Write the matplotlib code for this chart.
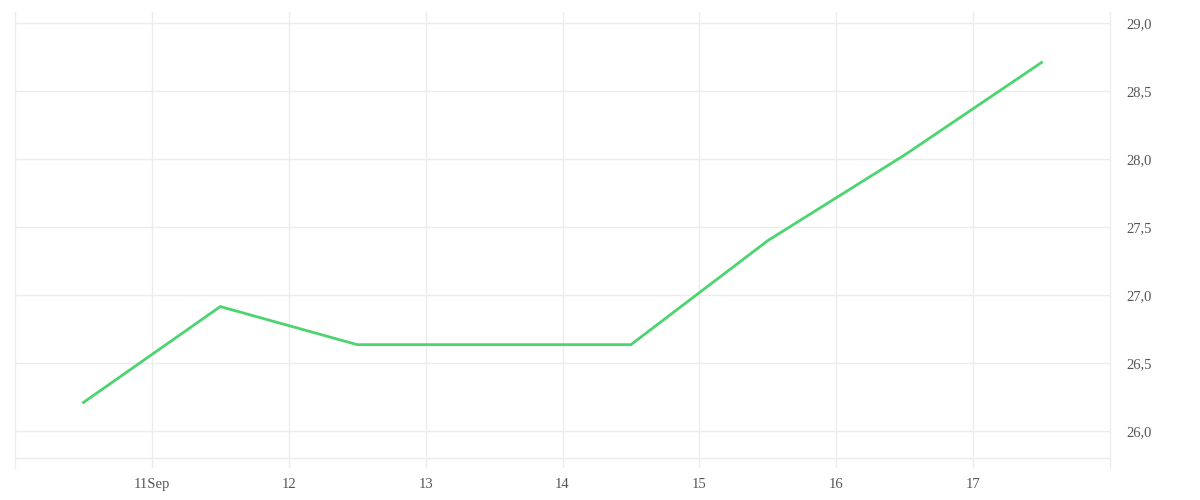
import numpy as np
import pandas as pd
import matplotlib
matplotlib.use('Agg')
import matplotlib.pyplot as plt
import matplotlib.dates as mdates

# data: one value per day, sampled at noon
dates = pd.to_datetime(['2023-09-10 12:00', '2023-09-11 12:00', '2023-09-12 12:00', '2023-09-13 12:00',
                        '2023-09-14 12:00', '2023-09-15 12:00', '2023-09-16 12:00', '2023-09-17 12:00'])
values = [26.21, 26.915, 26.635, 26.635, 26.635, 27.40, 28.03, 28.71]

tick_dates = pd.to_datetime(['2023-09-11', '2023-09-12', '2023-09-13', '2023-09-14',
                             '2023-09-15', '2023-09-16', '2023-09-17'])
tick_labels = ['11Sep', '12', '13', '14', '15', '16', '17']
y_ticks = [26.0, 26.5, 27.0, 27.5, 28.0, 28.5, 29.0]

plt.rcParams['font.family'] = ['Liberation Serif', 'DejaVu Serif']

grid_col = '#ececec'
text_col = '#555555'

fig = plt.figure(figsize=(12, 5), dpi=100)
ax = fig.add_axes([15 / 1200, 1 - 468 / 500, (1110 - 15) / 1200, (468 - 12) / 500])

ax.plot(dates, values, color='#4cd471', linewidth=2.0, solid_joinstyle='miter')

ax.set_xlim(pd.Timestamp('2023-09-10'), pd.Timestamp('2023-09-18'))
ax.set_ylim(25.728, 29.081)

ax.set_xticks(tick_dates)
ax.set_xticklabels(tick_labels)
ax.set_yticks(y_ticks)
ax.set_yticklabels([f'{v:.1f}'.replace('.', ',') for v in y_ticks])

ax.yaxis.tick_right()
ax.tick_params(axis='both', length=0, labelsize=10.5, colors=text_col)
ax.tick_params(axis='y', pad=12)
ax.tick_params(axis='x', pad=7)

ax.grid(True, color=grid_col, linewidth=1)
ax.set_axisbelow(True)
ax.axhline(25.80, color=grid_col, linewidth=1, zorder=0)

for side in ['top', 'bottom']:
    ax.spines[side].set_visible(False)
for side in ['left', 'right']:
    ax.spines[side].set_color(grid_col)
    ax.spines[side].set_linewidth(1)

plt.savefig('out.png', dpi=100)
